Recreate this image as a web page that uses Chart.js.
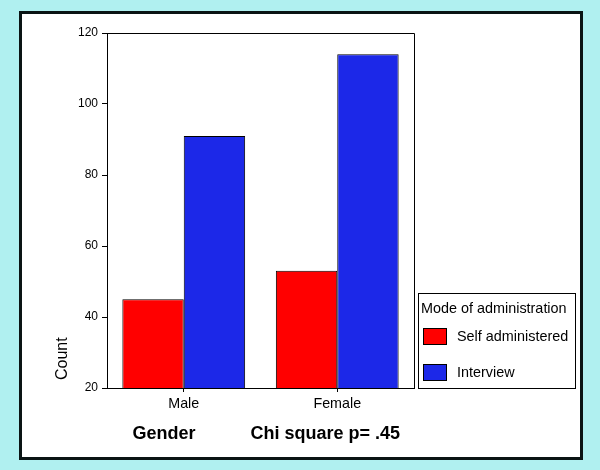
<!DOCTYPE html>
<html>
<head>
<meta charset="utf-8">
<script src="https://cdn.jsdelivr.net/npm/chart.js@4/dist/chart.umd.min.js"></script>
<style>
  html, body { margin: 0; padding: 0; background: #B0F0F0; }
  canvas { display: block; }
</style>
</head>
<body>
<canvas id="c" width="600" height="470"></canvas>
<script>
const categories = ['Male', 'Female'];
const seriesNames = ['Self administered', 'Interview'];
const selfAdministered = [45, 53];
const interview = [91, 114];
const yTickValues = [20, 40, 60, 80, 100, 120];
const legendTitle = 'Mode of administration';
const yAxisTitle = 'Count';
const xAxisTitle = 'Gender';
const note = 'Chi square p= .45';

const FONT = '"Liberation Sans", Arial, sans-serif';
const RED = '#FF0000';
const BLUE = '#1C28E8';

const framePlugin = {
  id: 'frame',
  beforeDraw(chart) {
    const ctx = chart.ctx;
    ctx.save();
    ctx.fillStyle = '#B0F0F0';
    ctx.fillRect(0, 0, chart.width, chart.height);
    ctx.fillStyle = '#FFFFFF';
    ctx.fillRect(19, 11, 564, 449);
    ctx.strokeStyle = '#0A1414';
    ctx.lineWidth = 3;
    ctx.strokeRect(20.5, 12.5, 561, 446);
    ctx.restore();
  },
  afterDraw(chart) {
    const ctx = chart.ctx;
    const a = chart.chartArea;
    ctx.save();
    // plot box
    ctx.strokeStyle = '#000';
    ctx.lineWidth = 1;
    ctx.beginPath();
    ctx.moveTo(Math.round(a.left) + 0.5, Math.round(a.top) + 0.5);
    ctx.lineTo(Math.round(a.right) + 0.5, Math.round(a.top) + 0.5);
    ctx.lineTo(Math.round(a.right) + 0.5, Math.round(a.bottom) + 0.5);
    ctx.stroke();

    // y axis title
    ctx.fillStyle = '#000';
    ctx.font = '16px ' + FONT;
    ctx.save();
    ctx.translate(66.5, 380);
    ctx.rotate(-Math.PI / 2);
    ctx.textAlign = 'left';
    ctx.textBaseline = 'alphabetic';
    ctx.fillText(yAxisTitle, 0, 0);
    ctx.restore();

    // bottom texts
    ctx.font = 'bold 18px ' + FONT;
    ctx.textAlign = 'left';
    ctx.textBaseline = 'alphabetic';
    ctx.fillText(xAxisTitle, 132.5, 439);
    ctx.fillText(note, 250.5, 439);

    // legend
    const lx = Math.round(a.right) + 4;
    ctx.lineWidth = 1;
    ctx.strokeStyle = '#000';
    ctx.strokeRect(lx + 0.5, 293.5, 157, 95);
    ctx.font = '14.4px ' + FONT;
    ctx.fillText(legendTitle, lx + 3, 313);
    chart.data.datasets.forEach((ds, i) => {
      const top = 328 + i * 36;
      ctx.fillStyle = ds.backgroundColor;
      ctx.fillRect(lx + 5, top, 24, 17);
      ctx.strokeStyle = '#000';
      ctx.strokeRect(lx + 5.5, top + 0.5, 23, 16);
      ctx.fillStyle = '#000';
      ctx.textBaseline = 'middle';
      ctx.fillText(ds.label, lx + 39, top + 9);
      ctx.textBaseline = 'alphabetic';
    });
    ctx.restore();
  }
};

new Chart(document.getElementById('c'), {
  type: 'bar',
  data: {
    labels: categories,
    datasets: [
      { label: seriesNames[0], data: selfAdministered, backgroundColor: RED, borderColor: '#000', borderWidth: 1 },
      { label: seriesNames[1], data: interview, backgroundColor: BLUE, borderColor: '#000', borderWidth: 1 }
    ]
  },
  options: {
    responsive: false,
    devicePixelRatio: 1,
    animation: false,
    layout: { padding: { left: 19, top: 33, right: 186, bottom: 40 } },
    plugins: {
      legend: { display: false },
      tooltip: { enabled: false },
      title: { display: false }
    },
    datasets: { bar: { categoryPercentage: 0.8, barPercentage: 1.0 } },
    scales: {
      x: {
        grid: { display: true, drawOnChartArea: false, drawTicks: true, tickLength: 4, offset: false, color: '#000' },
        border: { display: true, color: '#000', width: 1 },
        ticks: { color: '#000', font: { family: FONT, size: 14.3 }, padding: 3 },
        afterFit(s) { s.height = 42; }
      },
      y: {
        min: 20,
        max: 120,
        afterBuildTicks(s) { s.ticks = yTickValues.map(v => ({ value: v })); },
        grid: { display: true, drawOnChartArea: false, drawTicks: true, tickLength: 5, color: '#000' },
        border: { display: true, color: '#000', width: 1 },
        ticks: { color: '#000', font: { family: FONT, size: 12 }, padding: 4 },
        afterFit(s) { s.width = 88; }
      }
    }
  },
  plugins: [framePlugin]
});
</script>
</body>
</html>
